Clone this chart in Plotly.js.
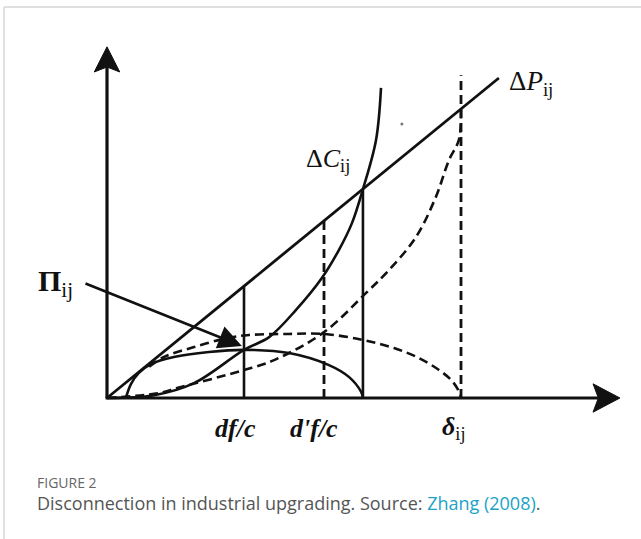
<!DOCTYPE html>
<html><head><meta charset="utf-8">
<script src="https://cdn.plot.ly/plotly-3.0.1.min.js"></script>
<style>html,body{margin:0;padding:0;background:#fff;} #chart{width:641px;height:539px;}</style>
</head><body><div id="chart"></div>
<script>
// ---- data (diagram units; origin at the axes' corner) ----
const deltaPX = [0, 11.07];
const deltaPY = [0, 9.04];

const deltaCX = [0, 1.33, 2.46, 3.87, 4.58, 5.34, 6.07, 6.55, 6.92, 7.23, 7.60, 7.74];
const deltaCY = [0, 0.08, 0.42, 1.36, 1.72, 2.49, 3.39, 4.18, 4.94, 5.90, 7.29, 8.76];

const dashCX = [0, 1.47, 1.98, 3.87, 4.72, 6.13, 7.32, 7.97, 8.73, 9.29, 9.66, 9.94, 10.0];
const dashCY = [0, 0.14, 0.28, 0.79, 1.07, 1.86, 2.97, 3.62, 4.55, 5.68, 6.72, 7.29, 8.14];

const humpX = [0.54, 0.68, 0.90, 1.24, 1.89, 2.88, 3.87, 5.14, 6.27, 6.84, 7.18, 7.23];
const humpY = [0.03, 0.40, 0.71, 0.96, 1.16, 1.30, 1.36, 1.27, 0.93, 0.59, 0.17, 0];

const dashHumpX = [1.19, 1.61, 2.46, 3.39, 4.01, 5.14, 6.13, 7.23, 8.11, 8.81, 9.38, 9.72, 9.92, 10.0];
const dashHumpY = [0.88, 1.16, 1.44, 1.69, 1.78, 1.81, 1.81, 1.64, 1.41, 1.13, 0.79, 0.51, 0.23, 0.03];

const markX = [3.87, 6.13, 7.23, 10.0];
const markTop = [3.16, 5.00, 5.90, 9.12];
const markDashed = [false, true, false, true];

const tickLabels = ['<b><i>df/c</i></b>', "<b><i>d'f/c</i></b>", '<b><i>δ</i></b><sub>ij</sub>'];
const tickLabelX = [3.64, 5.85, 9.80];

const axisTipX = 14.49;
const axisTipY = 9.92;

const piArrowFrom = [-0.65, 3.25];
const piArrowTo = [3.81, 1.47];

// ---- build ----
const K = '#111';
const traces = [];
const line = (x, y, dash, w, shape) => ({
  x, y, mode: 'lines', type: 'scatter', hoverinfo: 'skip', showlegend: false,
  line: {color: K, width: w || 2.6, dash: dash ? '9px,5px' : 'solid', shape: shape || 'linear', smoothing: 1}
});

// axes
const yHeadLen = 0.71, yHeadHalf = 0.36, yNotch = 0.14;
const xHeadLen = 0.76, xHeadHalf = 0.40, xNotch = 0.15;
traces.push(line([0, 0], [0, axisTipY - yHeadLen + yNotch], false, 3.2));
traces.push(line([-0.04, axisTipX - xHeadLen + xNotch], [0, 0], false, 3.2));
traces.push({type: 'scatter', mode: 'lines', fill: 'toself', fillcolor: K, hoverinfo: 'skip', showlegend: false,
  line: {color: K, width: 1},
  x: [0, yHeadHalf, 0, -yHeadHalf, 0],
  y: [axisTipY, axisTipY - yHeadLen, axisTipY - yHeadLen + yNotch, axisTipY - yHeadLen, axisTipY]});
traces.push({type: 'scatter', mode: 'lines', fill: 'toself', fillcolor: K, hoverinfo: 'skip', showlegend: false,
  line: {color: K, width: 1},
  x: [axisTipX, axisTipX - xHeadLen, axisTipX - xHeadLen + xNotch, axisTipX - xHeadLen, axisTipX],
  y: [0, xHeadHalf, 0, -xHeadHalf, 0]});

// curves
traces.push(line(deltaPX, deltaPY, false, 2.8));
traces.push(line(deltaCX, deltaCY, false, 2.6, 'spline'));
traces.push(line(dashCX, dashCY, true, 2.6, 'spline'));
traces.push(line(humpX, humpY, false, 2.6, 'spline'));
traces.push(line(dashHumpX, dashHumpY, true, 2.6, 'spline'));

// verticals
markX.forEach((mx, i) => traces.push(line([mx, mx], [0, markTop[i]], markDashed[i], markDashed[i] ? 2.8 : 2.6)));

// stray dot
traces.push({type: 'scatter', mode: 'markers', x: [8.33], y: [7.74], hoverinfo: 'skip', showlegend: false,
  marker: {size: 3, color: '#777'}});

const serif = 'Liberation Serif, DejaVu Serif, serif';
const annotations = [];
tickLabels.forEach((t, i) => annotations.push({x: tickLabelX[i], y: -0.85, xref: 'x', yref: 'y', text: t,
  showarrow: false, font: {family: serif, size: 26, color: K}}));
annotations.push({x: 11.3, y: 8.9, xref: 'x', yref: 'y', xanchor: 'left', text: 'Δ<i>P</i><sub>ij</sub>',
  showarrow: false, font: {family: serif, size: 27, color: K}});
annotations.push({x: 5.56, y: 6.72, xref: 'x', yref: 'y', xanchor: 'left', text: 'Δ<i>C</i><sub>ij</sub>',
  showarrow: false, font: {family: serif, size: 26, color: K}});
annotations.push({x: -2.0, y: 3.25, xref: 'x', yref: 'y', xanchor: 'left', text: '<b>Π</b><sub>ij</sub>',
  showarrow: false, font: {family: serif, size: 30, color: K}});
annotations.push({x: piArrowTo[0], y: piArrowTo[1], ax: piArrowFrom[0], ay: piArrowFrom[1],
  xref: 'x', yref: 'y', axref: 'x', ayref: 'y', text: '', showarrow: true,
  arrowhead: 2, arrowsize: 1.8, arrowwidth: 2.6, arrowcolor: K});
// caption
annotations.push({x: 35 / 641, y: 1 - 482 / 539, xref: 'paper', yref: 'paper', xanchor: 'left', yanchor: 'middle',
  text: 'FIGURE 2', showarrow: false, font: {family: 'Open Sans, sans-serif', size: 14, color: '#666'}});
annotations.push({x: 35 / 641, y: 1 - 503 / 539, xref: 'paper', yref: 'paper', xanchor: 'left', yanchor: 'middle',
  text: 'Disconnection in industrial upgrading. Source: <span style="color:#1ba3c6">Zhang (2008)</span>.',
  showarrow: false, font: {family: 'Open Sans, sans-serif', size: 18, color: '#555'}});

const shapes = [
  {type: 'line', xref: 'paper', yref: 'paper', x0: 4 / 641, x1: 1, y0: 1 - 7 / 539, y1: 1 - 7 / 539, line: {color: '#d6d6d6', width: 1.5}},
  {type: 'line', xref: 'paper', yref: 'paper', x0: 4 / 641, x1: 4 / 641, y0: 0, y1: 1 - 7 / 539, line: {color: '#d6d6d6', width: 1.5}}
];

const U = 35.4;
const layout = {
  width: 641, height: 539, margin: {l: 0, r: 0, t: 0, b: 0},
  paper_bgcolor: '#fff', plot_bgcolor: '#fff', showlegend: false,
  xaxis: {range: [-107 / U, (641 - 107) / U], visible: false, fixedrange: true},
  yaxis: {range: [-(539 - 398) / U, 398 / U], visible: false, fixedrange: true},
  annotations, shapes
};
Plotly.newPlot('chart', traces, layout, {staticPlot: true, displayModeBar: false});
</script></body></html>
